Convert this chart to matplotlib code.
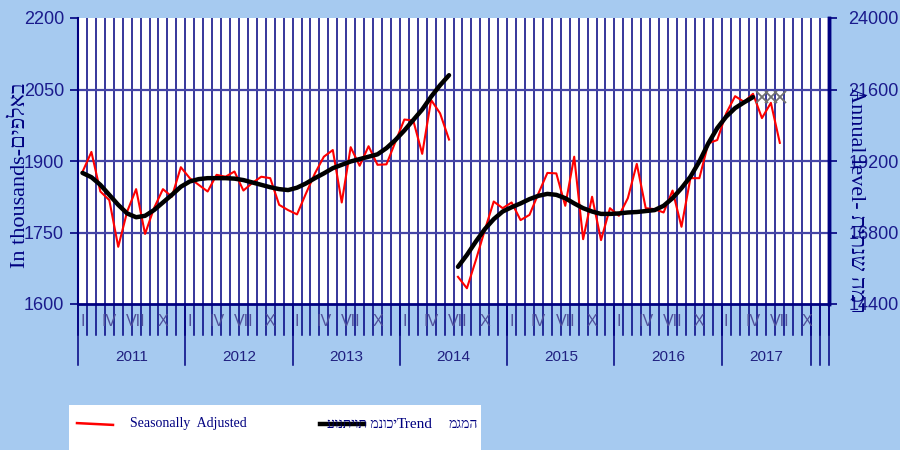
import numpy as np
import matplotlib.pyplot as plt
from matplotlib.lines import Line2D
from matplotlib.patches import Rectangle

# monthly series, Jan 2011 = month 0
years = ["2011", "2012", "2013", "2014", "2015", "2016", "2017"]
month_marks = ["I", "IV", "VII", "X"]

# seasonally adjusted, part 1: Jan 2011 - Jun 2014
sa_1 = [1877, 1919, 1836, 1818, 1720, 1794, 1841, 1747, 1801, 1841, 1825, 1887,
        1864, 1850, 1836, 1871, 1867, 1878, 1838, 1854, 1867, 1864, 1808, 1797,
        1788, 1832, 1874, 1909, 1923, 1813, 1929, 1890, 1931, 1892, 1893, 1940,
        1987, 1985, 1915, 2028, 2000, 1945]
# part 2: Jul 2014 - Jul 2017
sa_2 = [1657, 1633, 1692, 1755, 1815, 1801, 1813, 1776, 1787, 1832, 1875, 1874,
        1806, 1909, 1736, 1825, 1734, 1801, 1785, 1822, 1894, 1801, 1799, 1792,
        1838, 1762, 1864, 1864, 1937, 1944, 2000, 2036, 2024, 2041, 1990, 2022,
        1938]

trend_1 = [1875, 1866, 1850, 1829, 1808, 1790, 1782, 1785, 1797, 1813, 1829, 1846,
           1857, 1862, 1864, 1864, 1864, 1863, 1860, 1855, 1850, 1845, 1841, 1839,
           1844, 1853, 1864, 1874, 1885, 1892, 1899, 1904, 1909, 1914, 1927, 1944,
           1964, 1986, 2008, 2035, 2059, 2080]
trend_2 = [1678, 1703, 1731, 1757, 1778, 1794, 1803, 1811, 1820, 1827, 1831, 1829,
           1822, 1811, 1801, 1794, 1789, 1789, 1790, 1792, 1793, 1795, 1797, 1806,
           1822, 1843, 1867, 1899, 1937, 1969, 1993, 2011, 2023, 2034]

# grey crosses after the trend ends (May-Jul 2017)
cross_vals = [2035, 2035, 2035]
cross_start = 76

left_ticks = [1600, 1750, 1900, 2050, 2200]
right_ticks = [14400, 16800, 19200, 21600, 24000]

BG = "#A6CAF0"
NAVY = "#000080"
SERIF = ["Liberation Serif", "DejaVu Sans"]
SANS = ["Liberation Sans", "DejaVu Sans"]

fig = plt.figure(figsize=(9, 4.5), dpi=100, facecolor=BG)
ax = fig.add_axes([78 / 900, 146 / 450, 751 / 900, 286 / 450])
ax.set_facecolor("white")
n_months = 84
ax.set_xlim(0, n_months)
ax.set_ylim(1600, 2200)

# grid
for m in range(1, n_months):
    ax.axvline(m, color=NAVY, lw=1.1, zorder=1)
for v in left_ticks[1:-1]:
    ax.axhline(v, color="#4646a6", lw=1.6, zorder=1)

x1 = np.arange(len(sa_1)) + 0.5
x2 = np.arange(len(sa_1), len(sa_1) + len(sa_2)) + 0.5
ax.plot(x1, sa_1, color="red", lw=1.5, zorder=3)
ax.plot(x2, sa_2, color="red", lw=1.5, zorder=3)
xt1 = np.arange(len(trend_1)) + 0.5
xt2 = np.arange(len(trend_1), len(trend_1) + len(trend_2)) + 0.5
ax.plot(xt1, trend_1, color="black", lw=3.2, zorder=4, solid_capstyle="round")
ax.plot(xt2, trend_2, color="black", lw=3.2, zorder=4, solid_capstyle="round")
xc = np.arange(cross_start, cross_start + len(cross_vals)) + 0.5
ax.plot(xc, cross_vals, ls="none", marker="x", ms=8, mew=1.3, color="#707070", zorder=5)

# spines & ticks
ax.spines["top"].set_visible(False)
ax.spines["left"].set_color(NAVY)
ax.spines["left"].set_linewidth(1.5)
ax.spines["bottom"].set_color(NAVY)
ax.spines["bottom"].set_linewidth(2)
ax.spines["right"].set_color(NAVY)
ax.spines["right"].set_linewidth(2.5)
ax.set_xticks([])
ax.set_yticks(left_ticks)
ax.tick_params(axis="y", colors=NAVY, length=6, width=1.2, labelsize=13, pad=4)
for lab in ax.get_yticklabels():
    lab.set_family(SANS)
    lab.set_color("#1a1a8c")

ax2 = ax.twinx()
ax2.set_ylim(14400, 24000)
ax2.set_yticks(right_ticks)
ax2.tick_params(axis="y", colors=NAVY, length=6, width=1.2, labelsize=13, pad=8)
for lab in ax2.get_yticklabels():
    lab.set_family(SANS)
    lab.set_color("#1a1a8c")
for s in ["top", "left", "bottom"]:
    ax2.spines[s].set_visible(False)
ax2.spines["right"].set_color(NAVY)
ax2.spines["right"].set_linewidth(2.5)

# category axis below the plot
tr = ax.get_xaxis_transform()
for m in range(0, n_months + 1):
    ax.plot([m, m], [0, -0.108], color=NAVY, lw=1.1, transform=tr, clip_on=False)
year_lines = [0, 12, 24, 36, 48, 60, 72, 82, 83, 84]
for m in year_lines:
    ax.plot([m, m], [0, -0.213], color=NAVY, lw=1.1, transform=tr, clip_on=False)
for k, yr in enumerate(years):
    start = 12 * k
    end = start + (10 if yr == "2017" else 12)
    ax.text((start + end) / 2, -0.185, yr, transform=tr, ha="center", va="center",
            fontsize=11, color="#202080", family=SANS)
    for j, mk in enumerate(month_marks):
        ax.text(start + 3 * j + 0.5, -0.062, mk, transform=tr, ha="center", va="center",
                fontsize=11.5, color="#50509a", family=SANS)

# axis titles
fig.text(21 / 900, 1 - 175 / 450, "In thousands-" + "באלפים"[::-1], rotation=90,
         ha="center", va="center", fontsize=16, color=NAVY, family=SERIF)
fig.text(856 / 900, 1 - 200 / 450, "Annual level- " + "רמה שנתית"[::-1], rotation=270,
         ha="center", va="center", fontsize=16, color=NAVY, family=SERIF)

# legend box
fig.patches.append(Rectangle((69 / 900, 0), 412 / 900, 45 / 450, transform=fig.transFigure,
                             facecolor="white", edgecolor="none"))
ly = 1 - 424 / 450
fig.lines.append(Line2D([77 / 900, 113 / 900], [ly + 0.002, ly - 0.002], transform=fig.transFigure,
                        color="red", lw=1.8))
fig.text(130 / 900, ly, "Seasonally  Adjusted", ha="left", va="center", fontsize=10,
         color=NAVY, family=SERIF)
fig.lines.append(Line2D([320 / 900, 364 / 900], [ly, ly], transform=fig.transFigure,
                        color="black", lw=3.2))
fig.text(397 / 900, ly, "עונתיות מנוכי", ha="right", va="center", fontsize=10,
         color=NAVY, family=SERIF)
fig.text(397 / 900, ly, "Trend", ha="left", va="center", fontsize=11,
         color=NAVY, family=SERIF)
fig.text(478 / 900, ly, "מגמה", ha="right", va="center", fontsize=10,
         color=NAVY, family=SERIF)

fig.savefig("out.png", dpi=100, facecolor=BG)
